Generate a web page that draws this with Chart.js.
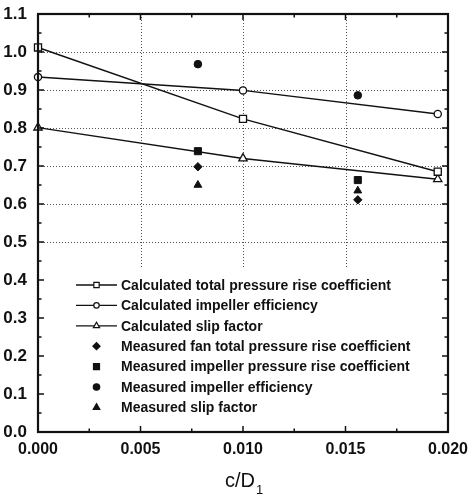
<!DOCTYPE html>
<html>
<head>
<title>c/D1 coefficients</title>
<script src="https://cdn.jsdelivr.net/npm/chart.js"></script>
<style>
  body { margin: 0; background: #fff; }
  #wrap { width: 470px; height: 495px; }
</style>
</head>
<body>
<div id="wrap"><canvas id="chart"></canvas></div>
<script>
// calculated curves
const calcX = [0, 0.010, 0.0195];
const calcTotalPressure = [1.012, 0.824, 0.685];
const calcEfficiency = [0.934, 0.899, 0.837];
const calcSlip = [0.801, 0.720, 0.665];

// measured points
const measX = [0.0078, 0.0156];
const measFanTotal = [0.698, 0.611];
const measImpPressure = [0.739, 0.663];
const measEfficiency = [0.968, 0.886];
const measSlip = [0.650, 0.635];

// axis ticks
const xTicks = [0, 0.005, 0.010, 0.015, 0.020];
const yTicks = [0, 0.1, 0.2, 0.3, 0.4, 0.5, 0.6, 0.7, 0.8, 0.9, 1.0, 1.1];

const FONT = "'Liberation Sans', Arial, sans-serif";
const INK = '#111';

const pts = (xs, ys) => xs.map((x, i) => ({ x: x, y: ys[i] }));

function calcSet(label, data, style, radius) {
    return {
        label: label, data: data, showLine: true,
        borderColor: INK, borderWidth: 1.5,
        pointStyle: style, pointRadius: radius,
        pointBackgroundColor: '#fff', pointBorderColor: INK, pointBorderWidth: 1.3,
        clip: false
    };
}
function measSet(label, data, style, radius) {
    return {
        label: label, data: data, showLine: false,
        pointStyle: style, pointRadius: radius,
        pointBackgroundColor: INK, pointBorderColor: INK, pointBorderWidth: 1,
        clip: false
    };
}

const datasets = [
    calcSet('Calculated total pressure rise coefficient', pts(calcX, calcTotalPressure), 'rect', 5),
    calcSet('Calculated impeller efficiency', pts(calcX, calcEfficiency), 'circle', 3.6),
    calcSet('Calculated slip factor', pts(calcX, calcSlip), 'triangle', 4.8),
    measSet('Measured fan total pressure rise coefficient', pts(measX, measFanTotal), 'rectRot', 4.2),
    measSet('Measured impeller pressure rise coefficient', pts(measX, measImpPressure), 'rect', 5),
    measSet('Measured impeller efficiency', pts(measX, measEfficiency), 'circle', 3.8),
    measSet('Measured slip factor', pts(measX, measSlip), 'triangle', 4.5)
];

function minorOf(ticks) {
    const out = [];
    for (let i = 0; i < ticks.length - 1; i++) out.push((ticks[i] + ticks[i + 1]) / 2);
    return out;
}

// dotted grid under the data
const gridPlugin = {
    id: 'dotGrid',
    beforeDatasetsDraw(chart) {
        const { ctx, chartArea: a, scales: { x, y } } = chart;
        ctx.save();
        ctx.strokeStyle = '#555';
        ctx.lineWidth = 1;
        ctx.setLineDash([1, 2]);
        xTicks.slice(1, -1).forEach(v => {
            const px = Math.round(x.getPixelForValue(v)) + 0.5;
            ctx.beginPath(); ctx.moveTo(px, a.top); ctx.lineTo(px, a.bottom); ctx.stroke();
        });
        yTicks.slice(1, -1).forEach(v => {
            const py = Math.round(y.getPixelForValue(v)) + 0.5;
            ctx.beginPath(); ctx.moveTo(a.left, py); ctx.lineTo(a.right, py); ctx.stroke();
        });
        ctx.restore();
    }
};

// legend box inside the plot
const legendPlugin = {
    id: 'boxLegend',
    afterDatasetsDraw(chart) {
        const { ctx, chartArea: a } = chart;
        ctx.save();
        ctx.fillStyle = '#fff';
        ctx.fillRect(a.left + 1, 267, a.right - a.left - 2, a.bottom - 268);
        const top = 285, step = 20.4;
        ctx.font = 'bold 14px ' + FONT;
        ctx.textBaseline = 'middle';
        datasets.forEach((ds, i) => {
            const yy = top + i * step;
            const mx = 96.5;
            if (ds.showLine) {
                ctx.strokeStyle = INK; ctx.lineWidth = 1.3;
                ctx.beginPath(); ctx.moveTo(76, yy); ctx.lineTo(117, yy); ctx.stroke();
            }
            const r = ds.showLine ? ds.pointRadius * 0.75 : ds.pointRadius * 0.85;
            ctx.fillStyle = ds.pointBackgroundColor;
            ctx.strokeStyle = INK;
            ctx.lineWidth = 1.2;
            Chart.helpers.drawPoint(ctx, { pointStyle: ds.pointStyle, radius: r, borderWidth: 1.2 }, mx, yy);
            ctx.fillStyle = INK;
            ctx.fillText(ds.label, 121, yy + 1);
        });
        ctx.restore();
    }
};

// solid frame with inward ticks, and the x title
const framePlugin = {
    id: 'frame',
    afterDraw(chart) {
        const { ctx, chartArea: a, scales: { x, y } } = chart;
        ctx.save();
        ctx.strokeStyle = INK;
        ctx.lineWidth = 1.5;
        const tick = (vals, len) => {
            vals.forEach(v => {
                const px = x.getPixelForValue(v);
                ctx.beginPath();
                ctx.moveTo(px, a.bottom); ctx.lineTo(px, a.bottom - len);
                ctx.moveTo(px, a.top); ctx.lineTo(px, a.top + len);
                ctx.stroke();
            });
        };
        const ytick = (vals, len) => {
            vals.forEach(v => {
                const py = y.getPixelForValue(v);
                ctx.beginPath();
                ctx.moveTo(a.left, py); ctx.lineTo(a.left + len, py);
                ctx.moveTo(a.right, py); ctx.lineTo(a.right - len, py);
                ctx.stroke();
            });
        };
        tick(xTicks, 6); tick(minorOf(xTicks), 3.5);
        ytick(yTicks, 6); ytick(minorOf(yTicks), 3.5);
        ctx.lineWidth = 2.2;
        ctx.strokeRect(a.left, a.top, a.right - a.left, a.bottom - a.top);

        ctx.fillStyle = INK;
        ctx.textBaseline = 'alphabetic';
        ctx.font = '20px ' + FONT;
        const w = ctx.measureText('c/D').width;
        const cx = (a.left + a.right) / 2 - 3;
        ctx.textAlign = 'left';
        ctx.fillText('c/D', cx - w / 2, 487);
        ctx.font = '13px ' + FONT;
        ctx.fillText('1', cx + w / 2 + 1, 494);
        ctx.restore();
    }
};

new Chart(document.getElementById('chart'), {
    type: 'scatter',
    data: { datasets: datasets },
    options: {
        responsive: true,
        maintainAspectRatio: false,
        animation: false,
        layout: { padding: { top: 14, right: 22, left: 0, bottom: 0 } },
        plugins: { legend: { display: false }, tooltip: { enabled: false } },
        scales: {
            x: {
                type: 'linear', min: 0, max: 0.020,
                afterBuildTicks: s => { s.ticks = xTicks.map(v => ({ value: v })); },
                afterFit: s => { s.height = 63; },
                grid: { display: false }, border: { display: false },
                ticks: {
                    padding: 0, color: INK, maxRotation: 0, autoSkip: false,
                    font: { family: FONT, size: 16, weight: 'bold' },
                    callback: v => v.toFixed(3)
                }
            },
            y: {
                type: 'linear', min: 0, max: 1.1,
                afterBuildTicks: s => { s.ticks = yTicks.map(v => ({ value: v })); },
                afterFit: s => { s.width = 38; },
                grid: { display: false }, border: { display: false },
                ticks: {
                    padding: 3, color: INK, autoSkip: false,
                    font: { family: FONT, size: 17, weight: 'bold' },
                    callback: v => v.toFixed(1)
                }
            }
        }
    },
    plugins: [gridPlugin, legendPlugin, framePlugin]
});
</script>
</body>
</html>
